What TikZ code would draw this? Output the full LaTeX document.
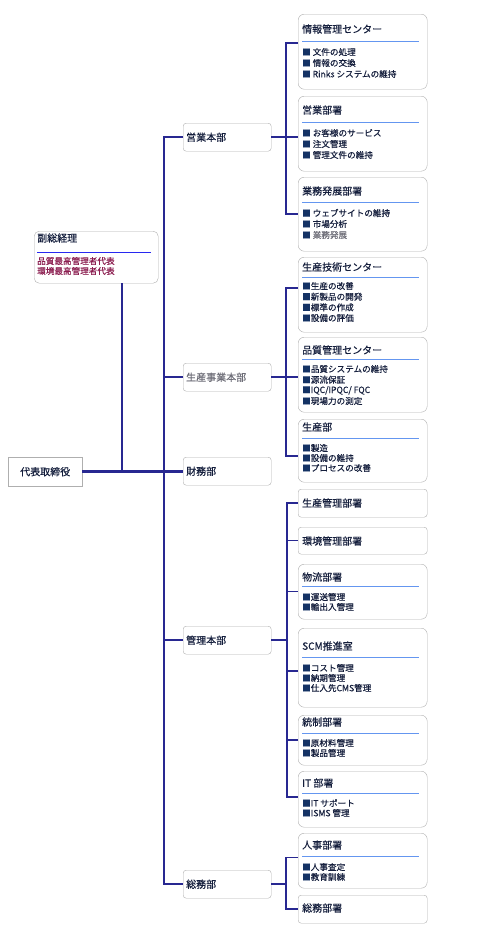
\documentclass[tikz,border=0pt]{standalone}
\usepackage{fontspec}
\newfontfamily\cjk{Noto Sans CJK JP}[FakeBold=0.35]
\definecolor{conn}{RGB}{40,40,145}
\definecolor{boxgray}{RGB}{175,175,175}
\definecolor{ttl}{RGB}{20,30,60}
\definecolor{bul}{RGB}{20,50,100}
\definecolor{uline}{RGB}{100,150,240}
\definecolor{vpline}{RGB}{40,40,240}
\definecolor{maroon}{RGB}{140,30,80}
\definecolor{grayt}{RGB}{110,110,120}
\newcommand\bl{{\color{bul}■}}
\begin{document}
\begin{tikzpicture}[x=1pt,y=-1pt,
  conn/.style={draw=conn,line width=1.5pt},
  thickconn/.style={draw=conn,line width=2.6pt},
  lvone/.style={draw=boxgray,rounded corners=3pt,fill=white,anchor=north west,text width=82pt,inner xsep=3pt,inner ysep=0pt,minimum height=28pt,align=left,font=\cjk\fontsize{10}{12}\selectfont,text=ttl},
  lvtwo/.style={draw=boxgray,rounded corners=6pt,fill=white,anchor=north west,minimum width=129pt,inner sep=0pt},
  ttlnode/.style={anchor=west,inner sep=0pt,font=\cjk\fontsize{10}{12}\selectfont,text=ttl},
  itm/.style={anchor=west,inner sep=0pt,font=\cjk\fontsize{8.6}{10}\selectfont,text=ttl},
  ul/.style={draw=uline,line width=0.8pt}
]
\useasboundingbox (0,0) rectangle (494,938);

% level-1 boxes
\node[lvone] (g1) at (183,123) {営業本部};
\node[lvone,text=grayt] (g2) at (183,363) {生産事業本部};
\node[lvone] (g3) at (183,457) {財務部};
\node[lvone] (g4) at (183,626) {管理本部};
\node[lvone] (g5) at (183,870) {総務部};

% CEO and VP
\node[draw=boxgray,anchor=north west,minimum width=74pt,minimum height=29pt,inner sep=0pt,font=\cjk\fontsize{10}{12}\selectfont,text=ttl] (ceo) at (8,457) {代表取締役};
\node[lvtwo,rounded corners=5pt,minimum width=124pt,minimum height=52pt] (vp) at (34,231) {};
\node[ttlnode] (vpt) at (37,238) {副総経理};
\draw[draw=vpline,line width=0.8pt] (37,252) -- (151,252);
\node[itm,text=maroon] (vpi1) at (37,261) {品質最高管理者代表};
\node[itm,text=maroon] (vpi2) at (37,271) {環境最高管理者代表};

% level-2 boxes
\node[lvtwo,minimum height=75pt] (n1) at (298,14) {};
\node[lvtwo,minimum height=75pt] (n2) at (298,96) {};
\node[lvtwo,minimum height=74pt] (n3) at (298,177) {};
\node[lvtwo,minimum height=75pt] (n4) at (298,257) {};
\node[lvtwo,minimum height=75pt] (n5) at (298,337) {};
\node[lvtwo,minimum height=63pt] (n6) at (298,419) {};
\node[lvtwo,rounded corners=3pt,minimum height=28pt] (n7) at (298,489) {};
\node[lvtwo,rounded corners=3pt,minimum height=27pt] (n8) at (298,527) {};
\node[lvtwo,minimum height=55pt] (n9) at (298,564) {};
\node[lvtwo,minimum height=79pt] (n10) at (298,628) {};
\node[lvtwo,minimum height=50pt] (n11) at (298,715) {};
\node[lvtwo,minimum height=56pt] (n12) at (298,771) {};
\node[lvtwo,minimum height=55pt] (n13) at (298,833) {};
\node[lvtwo,rounded corners=3pt,minimum height=28pt] (n14) at (298,895) {};

% titles
\node[ttlnode] (t1) at (302,29) {情報管理センター};
\node[ttlnode] (t2) at (302,110) {営業部署};
\node[ttlnode] (t3) at (302,191) {業務発展部署};
\node[ttlnode] (t4) at (302,267) {生産技術センター};
\node[ttlnode] (t5) at (302,350) {品質管理センター};
\node[ttlnode] (t6) at (302,427) {生産部};
\node[ttlnode] (t7) at (302,503) {生産管理部署};
\node[ttlnode] (t8) at (302,541) {環境管理部署};
\node[ttlnode] (t9) at (302,577) {物流部署};
\node[ttlnode] (t10) at (302,646) {SCM推進室};
\node[ttlnode] (t11) at (302,722) {統制部署};
\node[ttlnode] (t12) at (302,783) {IT 部署};
\node[ttlnode] (t13) at (302,845) {人事部署};
\node[ttlnode] (t14) at (302,908) {総務部署};

% underlines
\foreach \y in {41,122,202,277,359,438,586,657,733,793,856}
  \draw[ul] (302,\y) -- (419,\y);

% items
\node[itm] (i11) at (302,52) {\bl\ 文件の処理};
\node[itm] (i12) at (302,63) {\bl\ 情報の交換};
\node[itm] (i13) at (302,74) {\bl\ Rinks システムの維持};
\node[itm] (i21) at (302,133) {\bl\ お客様のサービス};
\node[itm] (i22) at (302,144) {\bl\ 注文管理};
\node[itm] (i23) at (302,155) {\bl\ 管理文件の維持};
\node[itm] (i31) at (302,213) {\bl\ ウェブサイトの維持};
\node[itm] (i32) at (302,224) {\bl\ 市場分析};
\node[itm] (i33) at (302,235) {\bl\ {\color{grayt}業務発展}};
\node[itm] (i41) at (302,286) {\bl 生産の改善};
\node[itm] (i42) at (302,296.7) {\bl 新製品の開発};
\node[itm] (i43) at (302,307.4) {\bl 標準の作成};
\node[itm] (i44) at (302,318) {\bl 設備の評価};
\node[itm] (i51) at (302,369) {\bl 品質システムの維持};
\node[itm] (i52) at (302,379.7) {\bl 源流保証};
\node[itm] (i53) at (302,390.4) {\bl IQC/IPQC/ FQC};
\node[itm] (i54) at (302,401) {\bl 現場力の測定};
\node[itm] (i61) at (302,448) {\bl 製造};
\node[itm] (i62) at (302,458) {\bl 設備の維持};
\node[itm] (i63) at (302,468) {\bl プロセスの改善};
\node[itm] (i91) at (302,597) {\bl 運送管理};
\node[itm] (i92) at (302,607) {\bl 輸出入管理};
\node[itm] (i101) at (302,668) {\bl コスト管理};
\node[itm] (i102) at (302,678) {\bl 納期管理};
\node[itm] (i103) at (302,688) {\bl 仕入先CMS管理};
\node[itm] (i111) at (302,743) {\bl 原材料管理};
\node[itm] (i112) at (302,753) {\bl 製品管理};
\node[itm] (i121) at (302,803) {\bl IT サポート};
\node[itm] (i122) at (302,813) {\bl ISMS 管理};
\node[itm] (i131) at (302,867) {\bl 人事査定};
\node[itm] (i132) at (302,877) {\bl 教育訓練};

% main spine
\draw[conn] (g1.west) -- ++(-19,0) |- (g5.west);
\draw[conn] (g2.west) -- ++(-19,0);
\draw[conn] (g4.west) -- ++(-19,0);
\draw[thickconn] (ceo.east) -- (ceo.east -| g3.west);
\coordinate (vpb) at ([xshift=26pt]vp.south);
\draw[thickconn,line width=2pt] (vpb) -- (vpb |- ceo.east);

% group 1
\draw[conn] ([yshift=8.5pt]n1.west) -- ++(-12,0) |- (n3.west);
\draw[conn] (g1.east) -- (g1.east -| n2.west);
% group 2
\draw[conn] ([yshift=6.5pt]n4.west) -- ++(-12,0) |- ([yshift=-5.5pt]n6.west);
\draw[conn] (g2.east) -- (g2.east -| n5.west);
% group 3
\draw[conn] (n7.west) -- ++(-11,0) |- ([yshift=2pt]n12.west);
\draw[conn] (n8.west) -- ++(-11,0);
\draw[conn] (n9.west) -- ++(-11,0);
\draw[conn] ([yshift=-3.5pt]n10.west) -- ++(-11,0);
\draw[conn] (n11.west) -- ++(-11,0);
\draw[conn] (g4.east) -- ++(16,0);
% group 4
\draw[conn] ([yshift=3pt]n13.west) -- ++(-12,0) |- (n14.west);
\draw[conn] (g5.east) -- ++(15,0);
\end{tikzpicture}
\end{document}
